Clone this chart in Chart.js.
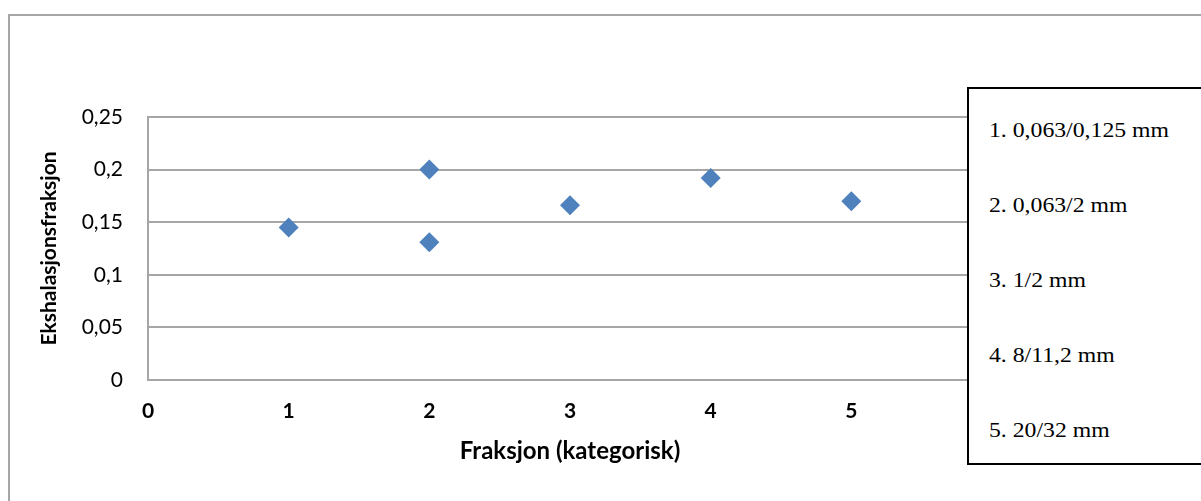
<!DOCTYPE html>
<html lang="no">
<head>
  <meta charset="UTF-8">
  <title>Ekshalasjonsfraksjon</title>
  <script src="https://cdn.jsdelivr.net/npm/chart.js"></script>
  <style>
    body {
      margin: 0;
      background: #ffffff;
      overflow: hidden;
    }
    #wrap {
      position: relative;
      width: 1201px;
      height: 501px;
      overflow: hidden;
    }
    #frame {
      position: absolute;
      left: 8px;
      top: 14px;
      width: 1260px;
      height: 560px;
      border: 2px solid #a6a6a6;
    }
    canvas {
      position: absolute;
      left: 0;
      top: 0;
    }
    #legendBox {
      position: absolute;
      left: 967px;
      top: 87px;
      width: 280px;
      height: 374px;
      border: 2px solid #000000;
      background: #ffffff;
      font-family: "Liberation Serif", "Times New Roman", serif;
      font-size: 21px;
      color: #000000;
    }
    #legendBox div {
      position: absolute;
      left: 20px;
      line-height: 21px;
      white-space: nowrap;
      transform: scaleX(1.13);
      transform-origin: left center;
    }
  </style>
</head>
<body>
  <div id="wrap">
    <div id="frame"></div>
    <canvas id="chart" width="1201" height="501"></canvas>
    <div id="legendBox"></div>
  </div>

  <script>
    // Fraksjon (x) og ekshalasjonsfraksjon (y)
    const xValues = [1, 2, 2, 3, 4, 5];
    const yValues = [0.145, 0.2, 0.131, 0.166, 0.192, 0.17];

    const xTickLabels = ['0', '1', '2', '3', '4', '5'];
    const yTickLabels = ['0', '0,05', '0,1', '0,15', '0,2', '0,25'];

    const legendLabels = [
      '1. 0,063/0,125 mm',
      '2. 0,063/2 mm',
      '3. 1/2 mm',
      '4. 8/11,2 mm',
      '5. 20/32 mm'
    ];

    // Tekstboks til høyre
    const box = document.getElementById('legendBox');
    legendLabels.forEach((txt, i) => {
      const d = document.createElement('div');
      d.textContent = txt;
      d.style.top = (31 + i * 75) + 'px';
      box.appendChild(d);
    });

    const points = xValues.map((x, i) => ({ x: x, y: yValues[i] }));
    const gridGray = '#a6a6a6';

    new Chart(document.getElementById('chart'), {
      type: 'scatter',
      data: {
        datasets: [{
          data: points,
          pointStyle: 'rectRot',
          pointRadius: 10,
          pointHoverRadius: 10,
          backgroundColor: '#4f81bd',
          borderWidth: 0
        }]
      },
      options: {
        responsive: false,
        animation: false,
        events: [],
        layout: {
          padding: { top: 117, right: 209, bottom: 20, left: 0 }
        },
        plugins: {
          legend: { display: false },
          tooltip: { enabled: false }
        },
        scales: {
          x: {
            type: 'linear',
            min: 0,
            max: 6,
            afterFit: (scale) => { scale.height = 101; },
            ticks: {
              stepSize: 1,
              padding: 19,
              color: '#000000',
              font: { family: 'Lato', size: 21, weight: 'bold' },
              callback: (v) => xTickLabels[v] !== undefined ? xTickLabels[v] : ''
            },
            grid: { display: false, drawTicks: false },
            border: { display: false },
            title: {
              display: true,
              text: 'Fraksjon (kategorisk)',
              color: '#000000',
              font: { family: 'Lato', size: 24, weight: 'bold' },
              padding: { top: 0, bottom: 15 }
            }
          },
          y: {
            min: 0,
            max: 0.25,
            afterFit: (scale) => { scale.width = 148; },
            ticks: {
              stepSize: 0.05,
              padding: 25,
              color: '#000000',
              font: { family: 'Lato', size: 21 },
              callback: (v) => {
                const i = Math.round(v / 0.05);
                return yTickLabels[i] !== undefined ? yTickLabels[i] : '';
              }
            },
            grid: { color: gridGray, lineWidth: 2, drawTicks: false },
            border: { display: true, color: gridGray, width: 2 },
            title: {
              display: true,
              text: 'Ekshalasjonsfraksjon',
              color: '#000000',
              font: { family: 'Lato', size: 21, weight: 'bold' },
              padding: { top: 37, bottom: 0 }
            }
          }
        }
      }
    });
  </script>
</body>
</html>
